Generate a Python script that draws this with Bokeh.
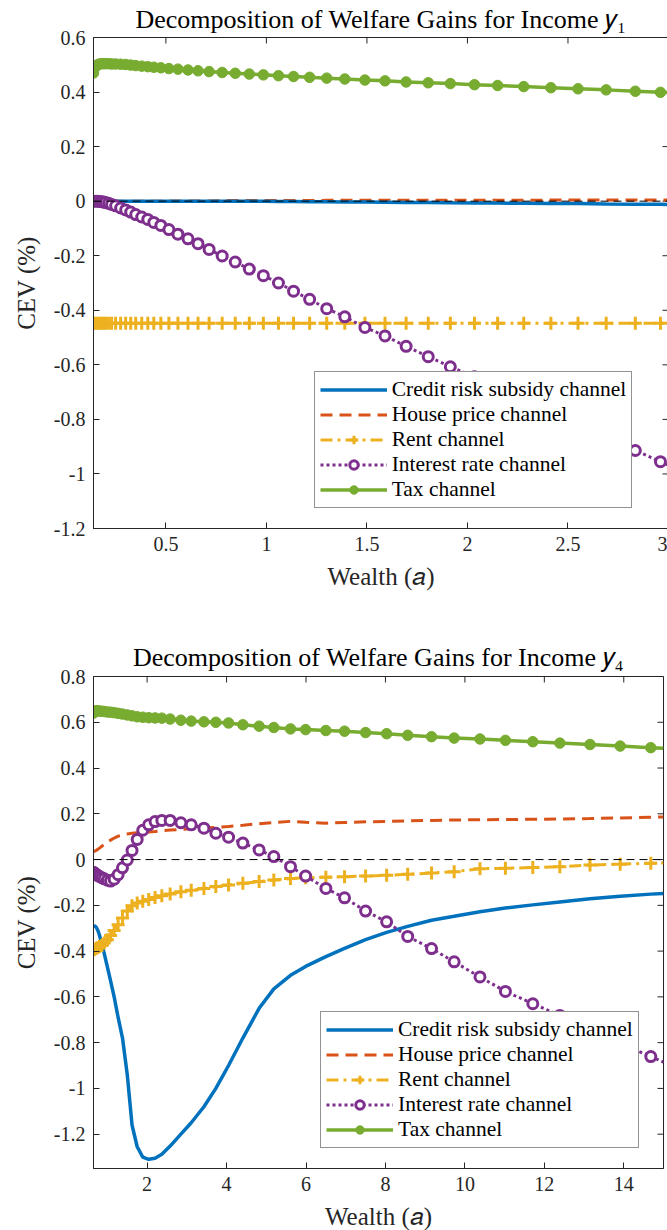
import math
from bokeh.plotting import figure
from bokeh.models import (ColumnDataSource, FixedTicker, Legend, LegendItem, Span, Range1d)
from bokeh.layouts import column
from bokeh.embed import file_html
from bokeh.resources import INLINE

# ---------------- data: income y1 ----------------
wealth_y1 = [0.14, 0.15, 0.16, 0.17, 0.18, 0.19, 0.20, 0.215, 0.23, 0.25,
             0.275, 0.30, 0.325, 0.35, 0.38, 0.41, 0.44, 0.475, 0.515, 0.56,
             0.61, 0.66, 0.715, 0.78, 0.845, 0.915, 0.985, 1.06, 1.135, 1.215,
             1.30, 1.39, 1.49, 1.59, 1.695, 1.805, 1.915, 2.035, 2.15, 2.28,
             2.415, 2.55, 2.69, 2.835, 2.96, 3.0]
credit_y1 = [0.0, 0.0, 0.0, 0.0, 0.0, 0.0, 0.0, 0.0, 0.0, 0.0,
             0.0, 0.0, 0.0, 0.0, 0.0, 0.0, 0.0, 0.0, 0.0, 0.0,
             0.0, 0.0, 0.0, 0.0, 0.0, 0.0, 0.0, -0.001, -0.001, -0.002,
             -0.002, -0.003, -0.003, -0.004, -0.005, -0.005, -0.006, -0.007, -0.007, -0.008,
             -0.009, -0.009, -0.010, -0.011, -0.011, -0.012]
house_y1 = [0.0, 0.0, 0.0, 0.0, 0.0, 0.0, 0.0, 0.0, 0.0, 0.0,
            0.0, 0.0, 0.0, 0.0, 0.0, 0.0, 0.0, 0.0, 0.001, 0.001,
            0.001, 0.001, 0.001, 0.002, 0.002, 0.002, 0.002, 0.002, 0.002, 0.002,
            0.003, 0.003, 0.003, 0.003, 0.003, 0.003, 0.003, 0.003, 0.003, 0.003,
            0.004, 0.004, 0.004, 0.004, 0.004, 0.004]
rent_y1 = [-0.448, -0.448, -0.448, -0.448, -0.448, -0.448, -0.448, -0.448, -0.448, -0.448,
           -0.448, -0.448, -0.448, -0.448, -0.448, -0.448, -0.448, -0.448, -0.448, -0.448,
           -0.448, -0.448, -0.448, -0.448, -0.448, -0.448, -0.448, -0.448, -0.448, -0.448,
           -0.448, -0.448, -0.448, -0.448, -0.448, -0.448, -0.448, -0.448, -0.448, -0.448,
           -0.448, -0.448, -0.448, -0.448, -0.448, -0.448]
interest_y1 = [0.0, 0.0, 0.0, -0.001, -0.002, -0.003, -0.005, -0.008, -0.012, -0.017,
               -0.025, -0.032, -0.040, -0.049, -0.058, -0.067, -0.078, -0.089, -0.104, -0.121,
               -0.138, -0.156, -0.177, -0.201, -0.223, -0.249, -0.273, -0.300, -0.330, -0.360,
               -0.394, -0.424, -0.463, -0.494, -0.532, -0.570, -0.607, -0.644, -0.683, -0.727,
               -0.773, -0.819, -0.866, -0.914, -0.955, -0.968]
tax_y1 = [0.470, 0.492, 0.500, 0.503, 0.504, 0.504, 0.504, 0.504, 0.503, 0.503,
          0.502, 0.501, 0.499, 0.497, 0.495, 0.493, 0.491, 0.489, 0.486, 0.484,
          0.481, 0.478, 0.475, 0.472, 0.469, 0.466, 0.463, 0.460, 0.457, 0.454,
          0.451, 0.448, 0.444, 0.441, 0.437, 0.434, 0.431, 0.427, 0.424, 0.420,
          0.416, 0.412, 0.408, 0.403, 0.399, 0.398]

# ---------------- data: income y4 ----------------
wealth_y4 = [0.65, 0.68, 0.72, 0.76, 0.80, 0.86, 0.92, 1.00, 1.08, 1.17,
             1.27, 1.38, 1.50, 1.62, 1.75, 1.89, 2.04, 2.20, 2.37, 2.58,
             2.85, 3.11, 3.43, 3.73, 4.05, 4.41, 4.82, 5.19, 5.61, 5.99,
             6.50, 6.97, 7.50, 8.03, 8.56, 9.16, 9.73, 10.38, 11.02, 11.71,
             12.39, 13.15, 13.91, 14.68, 15.0]
credit_y4 = [-0.292, -0.290, -0.296, -0.310, -0.330, -0.370, -0.410, -0.470, -0.530, -0.600,
             -0.690, -0.780, -0.940, -1.160, -1.255, -1.300, -1.310, -1.305, -1.288, -1.252,
             -1.200, -1.150, -1.080, -1.000, -0.900, -0.780, -0.650, -0.565, -0.506, -0.467,
             -0.424, -0.388, -0.350, -0.318, -0.292, -0.265, -0.248, -0.228, -0.212, -0.198,
             -0.185, -0.171, -0.160, -0.151, -0.148]
house_y4 = [0.035, 0.037, 0.040, 0.045, 0.050, 0.058, 0.066, 0.076, 0.085, 0.094,
            0.102, 0.108, 0.112, 0.115, 0.117, 0.119, 0.121, 0.123, 0.126, 0.129,
            0.132, 0.135, 0.138, 0.141, 0.145, 0.150, 0.157, 0.162, 0.167, 0.163,
            0.159, 0.162, 0.165, 0.167, 0.169, 0.171, 0.173, 0.174, 0.175, 0.176,
            0.177, 0.179, 0.182, 0.185, 0.186]
rent_y4 = [-0.395, -0.392, -0.388, -0.384, -0.380, -0.375, -0.365, -0.350, -0.332, -0.310,
           -0.285, -0.255, -0.225, -0.202, -0.190, -0.182, -0.175, -0.166, -0.158, -0.150,
           -0.141, -0.134, -0.126, -0.118, -0.111, -0.104, -0.096, -0.089, -0.083, -0.079,
           -0.077, -0.075, -0.072, -0.069, -0.064, -0.059, -0.053, -0.040, -0.038, -0.035,
           -0.031, -0.024, -0.020, -0.016, -0.015]
interest_y4 = [-0.055, -0.060, -0.065, -0.070, -0.074, -0.079, -0.084, -0.090, -0.094, -0.086,
               -0.066, -0.036, -0.002, 0.040, 0.088, 0.128, 0.152, 0.166, 0.171, 0.171,
               0.161, 0.152, 0.137, 0.115, 0.098, 0.072, 0.042, 0.013, -0.031, -0.072,
               -0.126, -0.167, -0.225, -0.272, -0.336, -0.389, -0.447, -0.513, -0.576, -0.630,
               -0.681, -0.742, -0.802, -0.861, -0.885]
tax_y4 = [0.640, 0.648, 0.650, 0.650, 0.649, 0.648, 0.647, 0.645, 0.644, 0.642,
          0.639, 0.636, 0.632, 0.628, 0.624, 0.622, 0.620, 0.619, 0.618, 0.614,
          0.609, 0.605, 0.602, 0.600, 0.597, 0.589, 0.583, 0.577, 0.571, 0.568,
          0.564, 0.561, 0.555, 0.550, 0.543, 0.537, 0.531, 0.527, 0.521, 0.515,
          0.509, 0.503, 0.496, 0.489, 0.486]

series_names = ["Credit risk subsidy channel", "House price channel", "Rent channel",
                "Interest rate channel", "Tax channel"]
titles = ["Decomposition of Welfare Gains for Income \U0001D466\u2081",
          "Decomposition of Welfare Gains for Income \U0001D466\u2084"]
x_label = "Wealth (\U0001D44E)"
y_label = "CEV (%)"

x_ticks_y1 = [0.5, 1.0, 1.5, 2.0, 2.5, 3.0]
x_tick_labels_y1 = ["0.5", "1", "1.5", "2", "2.5", "3"]
y_ticks_y1 = [-1.2, -1.0, -0.8, -0.6, -0.4, -0.2, 0.0, 0.2, 0.4, 0.6]
y_tick_labels_y1 = ["-1.2", "-1", "-0.8", "-0.6", "-0.4", "-0.2", "0", "0.2", "0.4", "0.6"]
x_ticks_y4 = [2, 4, 6, 8, 10, 12, 14]
x_tick_labels_y4 = ["2", "4", "6", "8", "10", "12", "14"]
y_ticks_y4 = [-1.2, -1.0, -0.8, -0.6, -0.4, -0.2, 0.0, 0.2, 0.4, 0.6, 0.8]
y_tick_labels_y4 = ["-1.2", "-1", "-0.8", "-0.6", "-0.4", "-0.2", "0", "0.2", "0.4", "0.6", "0.8"]
x_range_y1 = (0.14, 3.0)
y_range_y1 = (-1.2, 0.6)
x_range_y4 = (0.65, 15.0)
y_range_y4 = (-1.35, 0.8)
zero_level = 0.0

FONT = "Liberation Serif"
INK = "#262626"
BLUE, ORANGE, YELLOW, PURPLE, GREEN = "#0072BD", "#D95319", "#EDB120", "#7E2F8E", "#77AC30"


def style_axis(ax, ticks, labels):
    ax.ticker = FixedTicker(ticks=ticks)
    ax.major_label_overrides = dict(zip(ticks, labels))
    ax.major_tick_in = 6
    ax.major_tick_out = 0
    ax.minor_tick_line_color = None
    ax.axis_line_color = INK
    ax.major_tick_line_color = INK
    ax.axis_line_width = 1
    ax.major_label_text_font = FONT
    ax.major_label_text_color = INK
    ax.major_label_text_font_size = "20px"
    ax.major_label_standoff = 8
    ax.axis_label_text_font = FONT
    ax.axis_label_text_font_size = "25px"
    ax.axis_label_text_font_style = "normal"
    ax.axis_label_text_color = INK
    ax.axis_label_standoff = 9


def make_panel(title, x, credit, house, rent, interest, tax, xr, yr,
               xt, xtl, yt, ytl, left, top, fw, fh, bottom, title_valign, title_standoff):
    p = figure(frame_width=fw, frame_height=fh, x_range=Range1d(*xr), y_range=Range1d(*yr),
               output_backend="svg", toolbar_location=None,
               min_border_left=left, min_border_right=4, min_border_top=top,
               min_border_bottom=bottom)
    p.title.text = title
    p.title.align = "center"
    p.title.vertical_align = title_valign
    p.title.text_font = FONT
    p.title.text_font_size = "26px"
    p.title.text_font_style = "normal"
    p.title.text_color = "black"
    p.title.standoff = title_standoff
    p.grid.visible = False
    p.outline_line_color = INK
    p.outline_line_width = 1
    p.background_fill_color = "white"
    p.border_fill_color = "white"

    style_axis(p.xaxis[0], xt, xtl)
    style_axis(p.yaxis[0], yt, ytl)
    p.yaxis[0].axis_label_standoff = 11
    p.xaxis[0].axis_label = x_label
    p.yaxis[0].axis_label = y_label

    # mirrored tick marks on the top and right edges of the box (clipped to the frame)
    p.scatter(x=xt, y=[yr[1]] * len(xt), marker="dash", size=12, angle=math.pi / 2,
              line_color=INK, line_width=1)
    p.scatter(x=[xr[1]] * len(yt), y=yt, marker="dash", size=12, angle=0,
              line_color=INK, line_width=1)

    p.add_layout(Span(location=zero_level, dimension="width", line_color="black",
                      line_width=1, line_dash="8 5"))

    src = ColumnDataSource(dict(x=x, credit=credit, house=house, rent=rent,
                                interest=interest, tax=tax))
    msrc = ColumnDataSource(dict(x=x[:-1], rent=rent[:-1], interest=interest[:-1], tax=tax[:-1]))

    r_house = p.line("x", "house", source=src, line_color=ORANGE, line_width=3, line_dash="12 7")
    r_credit = p.line("x", "credit", source=src, line_color=BLUE, line_width=3.5)
    r_rent = p.line("x", "rent", source=src, line_color=YELLOW, line_width=3, line_dash="12 5 3 5")
    m_rent = p.scatter("x", "rent", source=msrc, marker="cross", size=13, line_color=YELLOW,
                       line_width=3)
    r_int = p.line("x", "interest", source=src, line_color=PURPLE, line_width=3, line_dash="3 3")
    m_int = p.scatter("x", "interest", source=msrc, marker="circle", size=10, line_color=PURPLE,
                      fill_color="white", line_width=3)
    r_tax = p.line("x", "tax", source=src, line_color=GREEN, line_width=3.5)
    m_tax = p.scatter("x", "tax", source=msrc, marker="circle", size=10.5, line_color=GREEN,
                      fill_color=GREEN, line_width=1)

    items = [LegendItem(label=series_names[0], renderers=[r_credit]),
             LegendItem(label=series_names[1], renderers=[r_house]),
             LegendItem(label=series_names[2], renderers=[r_rent, m_rent]),
             LegendItem(label=series_names[3], renderers=[r_int, m_int]),
             LegendItem(label=series_names[4], renderers=[r_tax, m_tax])]
    leg = Legend(items=items, location=(227, 20), label_text_font=FONT,
                 label_text_font_size="21.5px", label_text_color="black",
                 glyph_width=67, glyph_height=21, label_height=21, spacing=0,
                 label_standoff=5, padding=5, margin=0, border_line_color=INK,
                 border_line_width=1, background_fill_alpha=1.0)
    p.add_layout(leg, "center")
    return p


p1 = make_panel(titles[0], wealth_y1, credit_y1, house_y1, rent_y1, interest_y1, tax_y1,
                x_range_y1, y_range_y1, x_ticks_y1, x_tick_labels_y1, y_ticks_y1, y_tick_labels_y1,
                left=88, top=37, fw=575, fh=491, bottom=108, title_valign="top", title_standoff=4)
p2 = make_panel(titles[1], wealth_y4, credit_y4, house_y4, rent_y4, interest_y4, tax_y4,
                x_range_y4, y_range_y4, x_ticks_y4, x_tick_labels_y4, y_ticks_y4, y_tick_labels_y4,
                left=93, top=40, fw=570, fh=492, bottom=60, title_valign="bottom", title_standoff=9)

layout = column(p1, p2, spacing=0)
open("out.html", "w").write(file_html(layout, INLINE))
